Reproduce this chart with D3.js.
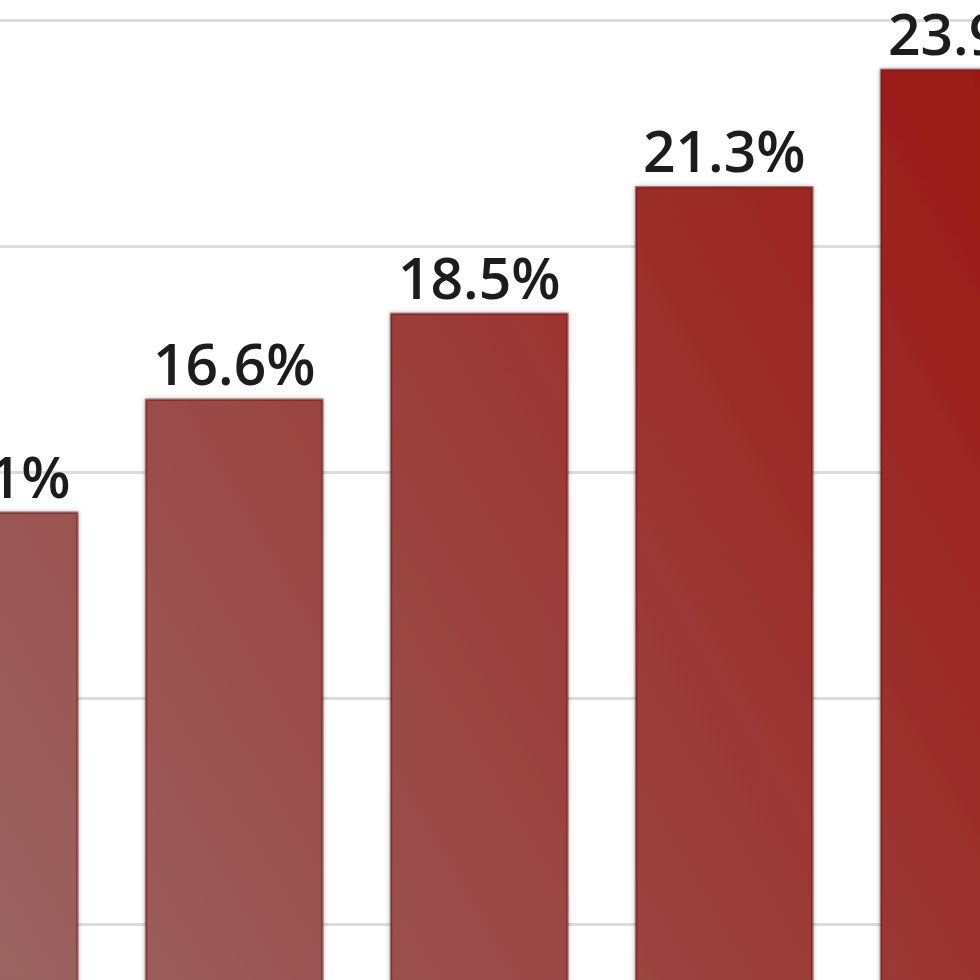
<!DOCTYPE html>
<html>
<head>
<meta charset="utf-8">
<script src="https://cdn.jsdelivr.net/npm/d3@7"></script>
<style>
  html, body { margin: 0; padding: 0; background: #fff; overflow: hidden; }
  svg { display: block; }
</style>
</head>
<body>
<script>
// Data (cropped view of a bar chart)
const categories = ["c1", "c2", "c3", "c4", "c5"];
const values = [14.1, 16.6, 18.5, 21.3, 23.9];
const gridTicks = [0, 5, 10, 15, 20, 25];
const labels = values.map(v => v.toFixed(1) + "%");

const W = 980, H = 980;
const svg = d3.select("body").append("svg").attr("width", W).attr("height", H);

const y = d3.scaleLinear().domain([0, 25]).range([1150, 20]);
const x = d3.scaleBand().domain(categories).range([-99, 1057.4]).paddingInner(0.28).paddingOuter(0);

const defs = svg.append("defs");
const grad = defs.append("linearGradient")
  .attr("id", "barGrad")
  .attr("gradientUnits", "userSpaceOnUse")
  .attr("x1", -100).attr("y1", 1150)
  .attr("x2", 1268).attr("y2", 356);
grad.append("stop").attr("offset", "0%").attr("stop-color", "#9a6e6d");
grad.append("stop").attr("offset", "100%").attr("stop-color", "#9c130e");

const filt = defs.append("filter").attr("id", "shadow").attr("x", "-10%").attr("y", "-10%").attr("width", "120%").attr("height", "120%");
filt.append("feDropShadow").attr("dx", 0).attr("dy", 0).attr("stdDeviation", 2.5).attr("flood-color", "#000").attr("flood-opacity", 0.35);

// gridlines
const yAxis = d3.axisLeft(y).tickValues(gridTicks).tickSize(W + 200).tickFormat("");
const g = svg.append("g").attr("transform", "translate(" + (W + 100) + ",0)").call(yAxis);
g.select(".domain").remove();
g.selectAll(".tick line").attr("stroke", "#dcdcdc").attr("stroke-width", 3);

// bars
svg.append("g").selectAll("rect")
  .data(values)
  .join("rect")
  .attr("x", (d, i) => x(categories[i]))
  .attr("y", d => y(d))
  .attr("width", x.bandwidth())
  .attr("height", d => y(0) - y(d))
  .attr("fill", "url(#barGrad)")
  .attr("stroke", "rgba(90,10,10,0.45)")
  .attr("stroke-width", 2.5)
  .attr("filter", "url(#shadow)");

// value labels
svg.append("g").selectAll("text")
  .data(values)
  .join("text")
  .attr("x", (d, i) => x(categories[i]) + x.bandwidth() / 2)
  .attr("y", d => y(d) - 15)
  .attr("text-anchor", "middle")
  .attr("font-family", "'Open Sans', 'Noto Sans', sans-serif")
  .attr("font-weight", 600)
  .attr("font-size", 57)
  .attr("fill", "#1c1c1c")
  .text((d, i) => labels[i]);
</script>
</body>
</html>
